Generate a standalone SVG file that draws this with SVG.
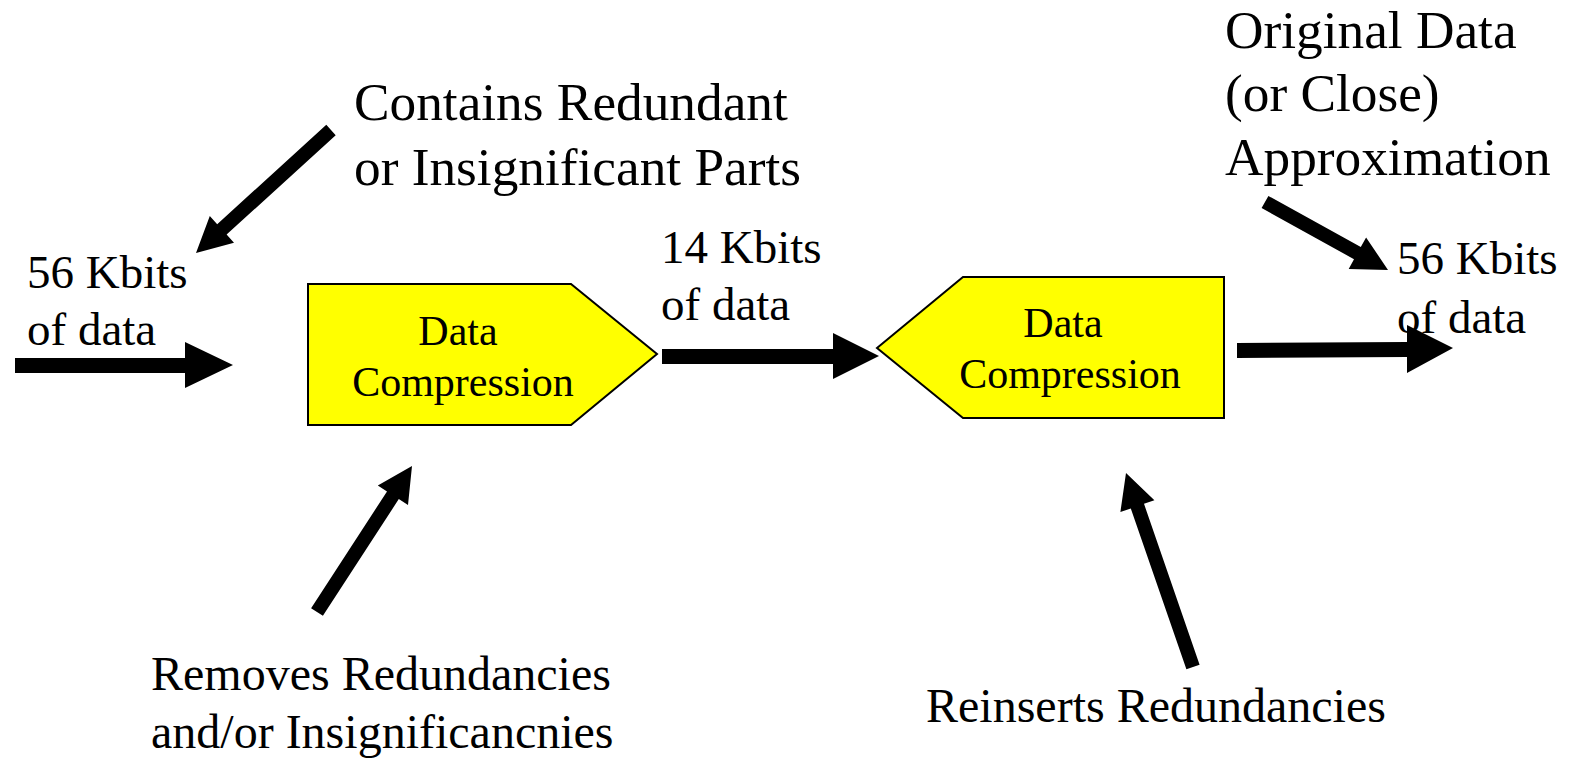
<svg xmlns="http://www.w3.org/2000/svg" width="1571" height="758" viewBox="0 0 1571 758">
<style>
.bg{fill:#ffffff}
.box{fill:#ffff00;stroke:#000000;stroke-width:2}
.arrow{fill:#000000;stroke:none}
text{font-family:"Liberation Serif","Times New Roman",serif;fill:#000000}
.bt{font-size:42px;text-anchor:middle}
.m{font-size:47px}
.l{font-size:53.3px}
.s{font-size:48px}
</style>
<rect class="bg" x="0" y="0" width="1571" height="758"/>
<g id="compressor">
<polygon class="box" points="308,284 571,284 657,354 571,425 308,425"/>
<text class="bt" x="458" y="345">Data</text>
<text class="bt" x="463" y="396">Compression</text>
</g>
<g id="decompressor">
<polygon class="box" points="877,348 963,277 1224,277 1224,418 963,418"/>
<text class="bt" x="1063" y="337">Data</text>
<text class="bt" x="1070" y="388">Compression</text>
</g>
<g id="input-label">
<text class="m" x="27" y="288">56 Kbits</text>
<text class="m" x="27" y="345">of data</text>
</g>
<g id="middle-label">
<text class="m" x="661" y="263">14 Kbits</text>
<text class="m" x="661" y="320">of data</text>
</g>
<g id="output-label">
<text class="m" x="1397" y="274">56 Kbits</text>
<text class="m" x="1397" y="333">of data</text>
</g>
<g id="contains-note">
<text class="l" x="354" y="120">Contains Redundant</text>
<text class="l" x="354" y="185">or Insignificant Parts</text>
</g>
<g id="original-note">
<text class="l" x="1225" y="48">Original Data</text>
<text class="l" x="1225" y="111">(or Close)</text>
<text class="l" x="1225" y="175">Approximation</text>
</g>
<g id="removes-note">
<text class="s" x="151" y="690">Removes Redundancies</text>
<text class="s" x="151" y="748">and/or Insignificancnies</text>
</g>
<g id="reinserts-note">
<text class="s" x="926" y="722">Reinserts Redundancies</text>
</g>
<g id="connectors">
<polygon class="arrow" points="15,358 185,358 185,342 233,365 185,388 185,373 15,373"/>
<polygon class="arrow" points="662,349 833,349 833,333 879,356 833,379 833,364 662,364"/>
<polygon class="arrow" points="1237,343 1407,342 1407,325 1453,348 1407,373 1407,357 1237,358"/>
<polygon class="arrow" points="335.7,135.2 226.6,234.6 234,242.7 196,253 209.8,216.1 217.2,224.2 326.3,124.8"/>
<polygon class="arrow" points="322.9,615.8 398.8,499.1 408,505.1 412,466 377.8,485.5 387,491.5 311.1,608.2"/>
<polygon class="arrow" points="1199.6,664.7 1144,503.8 1154.4,500.2 1126,473 1120.4,512 1130.8,508.4 1186.4,669.3"/>
<polygon class="arrow" points="1261.6,208.1 1354,259.2 1348.7,268.9 1388,270 1366.1,237.4 1360.8,247 1268.4,195.9"/>
</g>
</svg>
